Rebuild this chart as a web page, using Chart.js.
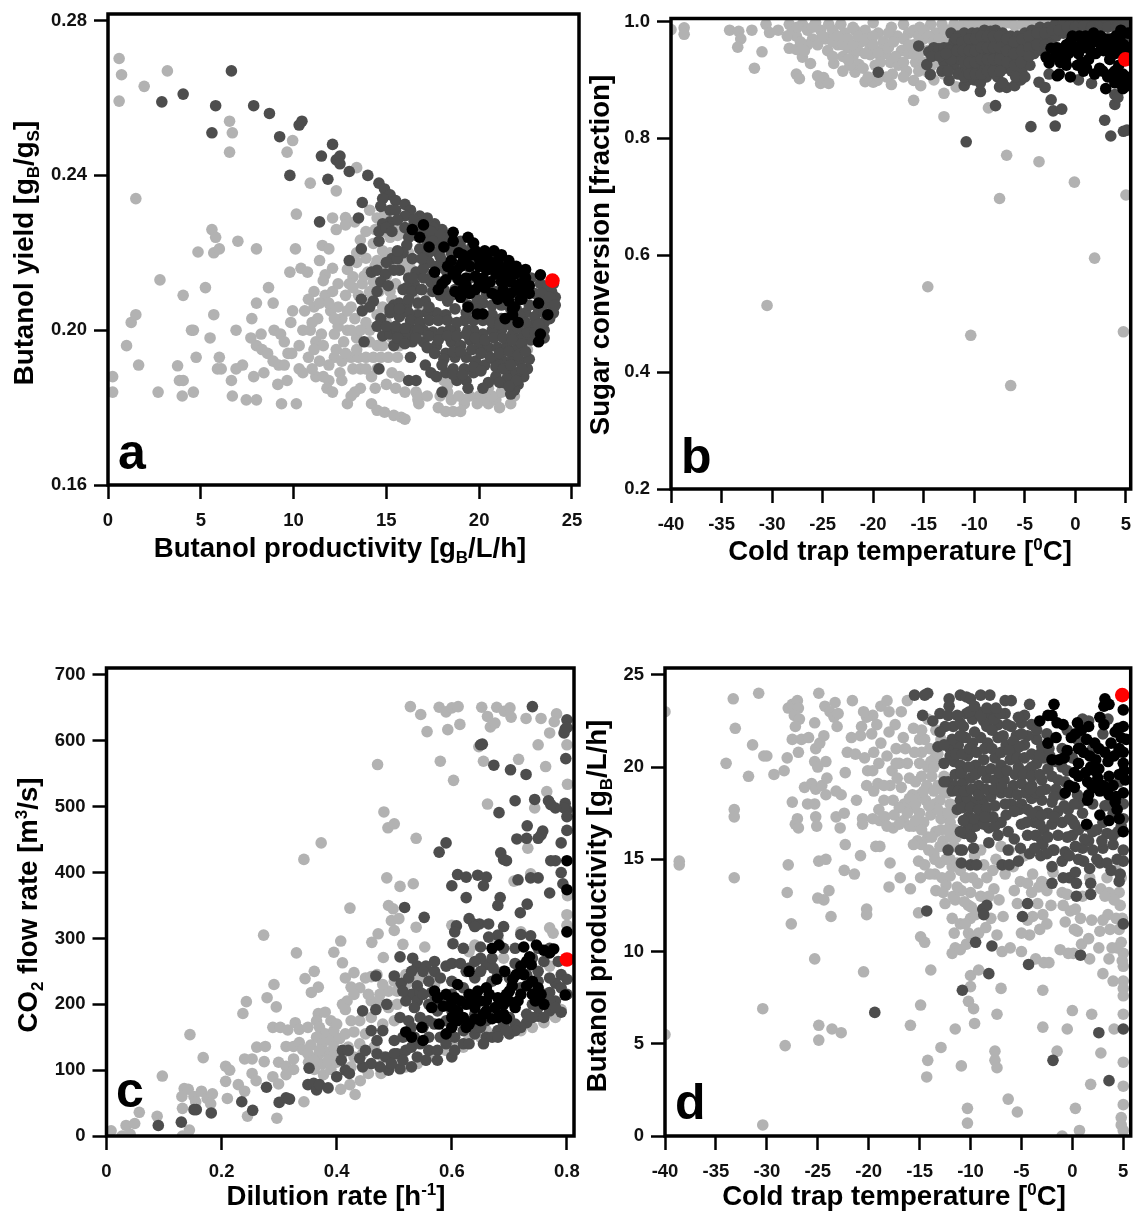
<!DOCTYPE html>
<html>
<head>
<meta charset="utf-8">
<title>Butanol process scatter plots</title>
<script src="https://cdn.jsdelivr.net/npm/chart.js@4"></script>
<style>
    html, body { margin: 0; padding: 0; background: #fff; }
    body { position: relative; width: 1138px; height: 1212px; overflow: hidden; }
    canvas { position: absolute; }
</style>
</head>
<body>
<canvas id="panelA" width="590" height="600" style="left:0;top:0"></canvas>
<canvas id="panelB" width="558" height="600" style="left:580px;top:0"></canvas>
<canvas id="panelC" width="590" height="562" style="left:0;top:650px"></canvas>
<canvas id="panelD" width="558" height="562" style="left:580px;top:650px"></canvas>
<script>
// Panel a: productivity vs yield
const aXTicks = [0, 5, 10, 15, 20, 25];
const aXLabels = ['0', '5', '10', '15', '20', '25'];
const aYTicks = [0.16, 0.20, 0.24, 0.28];
const aYLabels = ['0.16', '0.20', '0.24', '0.28'];
const aLight = [[.6,.2702],[.73,.266],[.6,.2592],[1.95,.263],[3.2,.267],[1.5,.234],[2.8,.213],[.25,.188],[.25,.184],[1,.196],[1.25,.202],[1.5,.204],[1.65,.191],[2.7,.184],[3.75,.1908],[3.85,.187],[4.05,.187],[4,.183],[4.6,.184],[4.05,.209],[4.5,.2],[4.6,.2],[4.75,.193],[4.85,.2202],[5.25,.211],[5.5,.198],[5.6,.226],[5.8,.224],[5.7,.22],[6,.221],[5.7,.204],[6,.193],[5.9,.19],[6.1,.19],[6.55,.254],[6.7,.251],[6.55,.246],[7,.223],[6.9,.2],[6.9,.19],[7.25,.191],[6.65,.187],[6.7,.183],[7.45,.182],[8,.182],[8,.221],[8,.207],[7.75,.203],[7.7,.198],[8.25,.199],[7.85,.188],[8.4,.189],[8.65,.211],[8.9,.207],[8.95,.2],[8,.196],[8.3,.195],[8.6,.194],[8.9,.192],[9.2,.191],[9.5,.191],[9.15,.186],[9.65,.187],[9.35,.181],[10.15,.181],[9.95,.249],[9.65,.246],[10.9,.238],[10.15,.23],[10.1,.221],[9.8,.215],[10.4,.216],[10.75,.215],[11.1,.21],[9.95,.205],[9.85,.202],[11.1,.206],[11.55,.2219],[11.9,.221],[11.4,.218],[12.1,.216],[11.7,.2143],[11.6,.2128],[12.1,.229],[12.8,.2291],[12.3,.226],[12.8,.2272],[13.3,.228],[14.1,.231],[14.5,.229],[12.3,.236],[13.4,.242],[13.6,.2233],[14.3,.2224],[14.8,.2205],[15.2,.224],[13.9,.2186],[13.4,.2175],[12.9,.2157],[13.2,.2138],[13.7,.212],[14.4,.2167],[15.6,.2172],[16.2,.2148],[15.2,.21],[17.25,.21],[9.3,.199],[9.5,.197],[9.7,.194],[9.9,.194],[10.5,.2],[10.9,.2],[10.3,.196],[11,.202],[11.3,.203],[11.5,.199],[11.2,.197],[11.6,.196],[10.8,.193],[11.1,.195],[10.3,.19],[10.5,.189],[11.2,.188],[11.6,.188],[11.9,.187],[11.8,.185],[12.2,.199],[12.4,.201],[12.6,.203],[12,.205],[12.4,.206],[11.7,.209],[12.1,.21],[12.4,.212],[12.8,.209],[13.1,.206],[13.3,.203],[12.9,.2],[13.4,.198],[12.7,.197],[12.2,.193],[12.6,.192],[11.9,.191],[13.1,.193],[13.5,.193],[13.9,.193],[14.3,.193],[14.7,.193],[15.1,.193],[15.6,.193],[13.2,.19],[13.6,.19],[12.5,.189],[14.1,.2],[14.5,.204],[14.2,.208],[14.8,.206],[15,.202],[15.3,.198],[15.7,.196],[14.5,.196],[14.2,.188],[14.4,.185],[13.6,.185],[13.3,.184],[13.1,.183],[12.9,.181],[15.3,.189],[15.7,.188],[16,.184],[16.6,.184],[16.7,.183],[14.2,.181],[14.5,.1793],[14.9,.1788],[15.4,.178],[15.8,.1775],[16,.177],[16.7,.182],[16.75,.181],[17.9,.183],[18.3,.184],[17.8,.18],[18.2,.179],[18.6,.179],[19,.179],[19.2,.181],[18.5,.182],[20,.183],[20.2,.182],[20.5,.181],[19.9,.181],[20.9,.182],[21.1,.18],[21.2,.184],[21.7,.181],[21.9,.183],[20.5,.185],[21.7,.189],[22,.192],[22.6,.195],[18.1,.187],[18.3,.186],[14.9,.218],[15.5,.212],[16.5,.208],[16.8,.205],[16.2,.22],[15.6,.205],[14.6,.21],[14,.215],[10.6,.205],[10.8,.208],[11.4,.207],[11.9,.207],[12.2,.203],[12.9,.205],[13.5,.209],[13.2,.211],[14.1,.21],[14.5,.212],[15,.214],[13.9,.202],[13.6,.2],[14.1,.197],[14.8,.2],[12.3,.195],[11.4,.192],[11,.19],[12.6,.187],[12.1,.184],[13.9,.19],[14.5,.19],[15,.186],[15.5,.185],[17.2,.183],[19.5,.183],[20.7,.183],[21.5,.186],[16.3,.216],[15.8,.225],[14.9,.23],[15.5,.227],[16.5,.225],[14.5,.218],[13.4,.22],[15.2,.22],[13,.212],[14.8,.196],[14.4,.226],[13.9,.2255],[14.9,.2255],[15.6,.2245],[16,.2175],[15,.2165],[14.3,.2125],[13.8,.214],[15.3,.208],[13.1,.2],[13.4,.195],[12.8,.194],[19.2,.182],[18.9,.183],[20.3,.184]];
const aDark = [[2.9,.259],[4.05,.261],[6.65,.267],[5.8,.258],[5.6,.251],[7.85,.258],[8.7,.256],[9.25,.25],[10.3,.253],[10.45,.254],[9.8,.24],[12.1,.248],[11.5,.245],[12.3,.244],[12.5,.245],[12.5,.243],[11.85,.239],[13,.241],[14,.24],[13.7,.233],[11.4,.228],[13.5,.229],[13.65,.221],[13,.218],[14.2,.215],[13.65,.208],[13.7,.205],[13.8,.197],[14.6,.19],[14.6,.238],[14.9,.2365],[15.2,.235],[15.5,.2335],[14.8,.234],[14.7,.232],[15.2,.231],[15.5,.231],[16,.2325],[16.3,.231],[16.8,.2295],[17.2,.229],[17.6,.2275],[18,.226],[18.4,.2245],[19,.223],[19.6,.2215],[16,.2295],[16.5,.228],[15.2,.228],[14.8,.2275],[14.6,.2255],[14.6,.223],[15,.2265],[16,.2265],[16.2,.224],[16.1,.222],[15.9,.22],[15.3,.2185],[15.6,.2185],[15.7,.2155],[16.4,.2185],[16.8,.221],[17.2,.223],[17.5,.225],[18,.223],[17.8,.22],[17.3,.2175],[16.6,.215],[16.2,.2135],[16.1,.211],[16.5,.212],[17,.2135],[17,.216],[18,.218],[18.5,.22],[14.5,.2155],[14.95,.2145],[14.7,.2125],[14.5,.21],[14.3,.2075],[14.1,.206],[15.4,.2065],[15.7,.207],[16.1,.2065],[16.7,.207],[17.1,.2075],[17.5,.21],[17.9,.209],[18.3,.2075],[18.7,.2105],[19.1,.2085],[19.4,.2065],[19.9,.208],[20.4,.2095],[20.9,.21],[21.4,.2075],[22,.2055],[22.5,.2045],[23,.2035],[23.6,.207],[23.9,.21],[24.1,.2085],[24,.206],[23.8,.203],[23.5,.2],[23.2,.198],[22.8,.1975],[22.3,.198],[21.8,.199],[21.2,.2],[20.7,.2],[20.2,.199],[19.7,.2],[19.2,.2025],[18.7,.2],[18.2,.204],[17.7,.2045],[17.2,.2045],[16.7,.204],[16.2,.2045],[15.7,.2035],[15.2,.2045],[14.7,.203],[14.5,.201],[14.8,.1985],[15.2,.199],[15.6,.1995],[16.1,.199],[16.5,.2],[17,.2],[17.5,.1995],[18,.1995],[18.5,.197],[19,.196],[19.5,.1975],[20,.1965],[20.5,.1955],[21,.1955],[21.5,.196],[22,.195],[15.4,.196],[15.9,.197],[16.4,.197],[17,.197],[17.7,.196],[18.2,.194],[18.7,.193],[19.3,.193],[19.8,.192],[20.3,.191],[20.8,.1925],[21.3,.192],[21.8,.1925],[22.2,.192],[22.7,.1925],[22.6,.19],[22.4,.188],[22.1,.186],[21.9,.1845],[21.7,.1835],[21.3,.1865],[20.9,.188],[20.5,.1865],[20.2,.185],[19.7,.189],[19.3,.187],[18.8,.187],[18.2,.189],[18.6,.19],[19.2,.19],[17.1,.191],[17.4,.189],[17.7,.188],[16.3,.193],[16.2,.187],[16.6,.187],[18,.184],[19.4,.185],[21.1,.191],[21.6,.189],[22,.189],[18.4,.2],[19.4,.2],[20.7,.204],[21.2,.203],[22.9,.201],[23.5,.202],[17,.2255],[17.5,.2245],[18,.2235],[18.6,.2215],[19.2,.22],[19.8,.2185],[20.3,.2165],[20.8,.2185],[21.3,.2175],[21.8,.216],[22.3,.2145],[22.8,.2135],[23.3,.212],[23.7,.2115],[24,.212],[17.2,.2195],[17.7,.2165],[18.2,.2155],[18.8,.2135],[19.5,.2135],[20,.2115],[20.6,.2105],[21.3,.2125],[21.9,.2115],[22.5,.2105],[23,.2095],[23.4,.2095],[23.8,.2085],[15.9,.2105],[16.4,.21],[16.9,.2105],[17.4,.2125],[18.1,.2105],[18.5,.209],[19.3,.2095],[19.8,.2065],[20.2,.207],[20.7,.2065],[21.2,.2065],[21.7,.2055],[22.2,.2035],[22.7,.2065],[23.2,.2055],[23.5,.2045],[24,.2045],[15.2,.2055],[15.7,.2055],[16.3,.2025],[16.8,.202],[17.3,.2025],[17.8,.2025],[18.3,.2025],[18.8,.202],[19.3,.2045],[19.7,.2025],[20.2,.2025],[20.7,.202],[21.1,.2015],[21.6,.2015],[22.1,.2005],[22.6,.1995],[23,.1995],[23.5,.198],[15,.201],[15.5,.201],[16,.2005],[16.7,.2],[17.3,.1985],[17.8,.1975],[18.3,.1985],[18.8,.1985],[19.3,.199],[19.8,.198],[20.3,.1975],[20.8,.198],[21.3,.198],[21.8,.1975],[22.3,.1965],[15.6,.198],[16,.1965],[16.6,.198],[17.2,.1955],[17.6,.194],[18.1,.1925],[18.6,.1945],[19,.1945],[19.6,.195],[20.1,.194],[20.6,.193],[21.1,.194],[21.6,.1945],[22.1,.1935],[22.5,.1945],[18,.191],[18.6,.1885],[19.1,.1885],[19.7,.1905],[20.1,.1895],[20.9,.1905],[21.3,.19],[21.7,.191],[22.3,.19],[21.5,.1875],[21.1,.1865],[22,.187],[21.6,.1855],[16.5,.2285],[17,.2275],[17.5,.2265],[16.8,.2265],[17.4,.2255],[17.9,.2245],[17.5,.223],[17.9,.221],[17.4,.2205],[16.9,.2185],[17.9,.219],[18.3,.2165],[18.6,.2165],[19,.2215],[18.4,.2215],[15.6,.2285],[15.3,.2255],[16.6,.2245],[15.6,.2205],[15,.2175],[19.4,.2165],[17.5,.2145],[16.4,.2135],[15.4,.2155],[17.8,.2125],[16.9,.2105],[15.1,.2115],[16.2,.208],[17.3,.206],[18.7,.2055],[19.9,.2055],[22.5,.202],[23.2,.2015],[24.1,.2065]];
const aBlack = [[16.4,.226],[17,.2272],[16.8,.224],[17.3,.2215],[18.1,.2215],[18.6,.2253],[18.6,.223],[19.4,.224],[19.7,.2225],[18.9,.22],[18.5,.218],[19.3,.2185],[19.8,.2205],[20.3,.2205],[20.8,.2205],[21.2,.2195],[21.6,.218],[22,.2165],[22.5,.2157],[23.3,.2143],[17.6,.215],[18,.212],[18.2,.213],[17.8,.2105],[18.8,.2155],[18.9,.213],[18.7,.21],[19,.2085],[19.3,.2115],[19.4,.206],[19.8,.214],[20,.2165],[20.3,.2185],[20.7,.2165],[20.6,.2125],[20.3,.211],[20.9,.2145],[21.1,.2165],[21.3,.215],[21.5,.2135],[21.9,.2145],[22.2,.212],[22.5,.2135],[22.7,.2115],[22.7,.2095],[22.3,.208],[21.9,.206],[21.7,.2095],[21.3,.2105],[21,.208],[19.9,.2042],[20.2,.2042],[21.4,.203],[21.8,.2055],[22.1,.202],[23.2,.207],[23.7,.204],[23.3,.199],[23.2,.197],[22.2,.208],[19.1,.2175],[20.4,.2155],[22,.2105],[19,.2165],[19.5,.2165],[19.6,.2195],[20,.2185],[20.5,.2175],[21,.218],[21.5,.216],[22.2,.215],[19.8,.2105],[20,.2125],[19.5,.2095],[20.7,.2095],[21.4,.2085],[21.8,.204],[19.1,.2105],[20.5,.218],[18.3,.2165],[18.6,.2145],[19.3,.2135],[20.2,.2135],[21.2,.2125],[20.4,.2195],[19.1,.2195],[21.7,.2125],[20.9,.2165],[22.4,.2105],[21.6,.2075],[20.9,.209]];
const aRed = [[23.95,.2128]];

// Panel b: cold trap temperature vs sugar conversion
const bXTicks = [-40, -35, -30, -25, -20, -15, -10, -5, 0, 5];
const bXLabels = ['-40', '-35', '-30', '-25', '-20', '-15', '-10', '-5', '0', '5'];
const bYTicks = [0.2, 0.4, 0.6, 0.8, 1.0];
const bYLabels = ['0.2', '0.4', '0.6', '0.8', '1.0'];
const bLight = [[-40,.986],[-38.7,.989],[-38.7,.978],[-34.2,.985],[-33.3,.983],[-33.1,.97],[-33.4,.956],[-32,.985],[-31,.948],[-31.75,.92],[-30.6,.995],[-30.25,.981],[-29.4,.985],[-27.6,.91],[-27.3,.902],[-27,.939],[-28.3,.954],[-27.6,.952],[-26.2,.928],[-25.5,.907],[-25.2,.894],[-24.9,.904],[-24.4,.894],[-23.9,.928],[-20.8,.897],[-20,.896],[-19.6,.899],[-18.2,.892],[-18.1,.91],[-21.8,.913],[-21.4,.926],[-20.3,.943],[-16,.865],[-16,.899],[-15.3,.89],[-14.6,.913],[-13,.877],[-13,.837],[-8.6,.852],[-6.8,.771],[-3.6,.76],[-.1,.725],[-7.5,.697],[5,.703],[1.9,.595],[-14.6,.546],[-30.5,.514],[-10.35,.463],[4.75,.469],[-6.4,.377],[-28.3,.995],[-28,.985],[-27.6,.975],[-27,.995],[-26.5,.985],[-26,.97],[-25.7,.998],[-25.2,.985],[-24.7,.97],[-24.4,.995],[-24,.98],[-23.5,.96],[-23.2,.995],[-22.8,.98],[-22.5,.955],[-22,.94],[-21.8,.985],[-21.2,.965],[-20.8,.985],[-20.3,.955],[-20,.998],[-19.5,.98],[-19,.965],[-18.8,.945],[-18.3,.93],[-18.2,.99],[-17.6,.975],[-17.2,.95],[-17,.995],[-16.5,.98],[-16,.96],[-15.8,.93],[-15.4,.99],[-15,.97],[-14.6,.95],[-14.3,.995],[-13.8,.98],[-13.5,.93],[-13,.91],[-13.2,.995],[-12.5,.985],[-12,.995],[-11.5,.99],[-11,.998],[-10.5,.995],[-10,.998],[-9.5,.995],[-9,.998],[-8.4,.995],[-7.8,.998],[-7.2,.995],[-6.6,.998],[-6,.993],[-26.5,.96],[-25.5,.96],[-24.5,.95],[-23,.94],[-22.3,.925],[-21,.92],[-20.5,.905],[-19.8,.925],[-17.5,.925],[-16.7,.915],[-14.2,.925],[-12.5,.91],[-11.8,.888],[-19.2,.95],[-21.5,.95],[-16.5,.945],[-15.5,.915],[-14,.9],[-12.8,.93],[-24,.985],[-27.2,.965],[-28.5,.975],[-22,.99],[-5.3,.995],[-4.7,.998],[-27.5,.99],[-26,.99],[-25,.975],[-24,.965],[-23.5,.975],[-23,.96],[-22.5,.97],[-22,.96],[-21.5,.975],[-20.8,.97],[-20.8,.945],[-20,.975],[-20,.96],[-19.5,.945],[-19.3,.93],[-18.5,.98],[-18.5,.955],[-18,.965],[-17.8,.94],[-17,.97],[-17,.93],[-16.5,.96],[-16,.985],[-16,.945],[-15.5,.975],[-15.5,.945],[-15,.985],[-15,.93],[-14.5,.975],[-14,.965],[-13.5,.97],[-13,.985],[-13,.965],[-12.5,.97],[-18.7,.905],[-19.5,.905],[-17,.905],[-26.8,.95],[-24,.94],[-23,.915],[-22.5,.935],[-4,.998],[-3,.998]];
const bDark = [[-15.5,.958],[-19.5,.913],[-14.7,.926],[-14.35,.909],[-10.8,.794],[-7.9,.856],[-4.4,.82],[-2,.821],[-2.4,.866],[-2.2,.847],[-1.35,.85],[2.9,.831],[3.5,.804],[4.75,.812],[5.1,.814],[3.9,.858],[3.9,.875],[-3.6,.896],[-3,.887],[.3,.9],[1.6,.894],[-9.4,.88],[-12.5,.899],[-11,.89],[-7.5,.888],[-6.8,.887],[-6,.89],[-5.4,.9],[-2.6,.91],[-14.5,.948],[-14,.955],[-13.5,.953],[-13,.955],[-13,.93],[-12.5,.955],[-12.3,.98],[-12,.965],[-12,.945],[-12,.925],[-11.6,.975],[-11.5,.955],[-11.4,.935],[-11.2,.915],[-11,.98],[-10.8,.96],[-10.8,.94],[-10.8,.92],[-10.6,.9],[-10.2,.98],[-10.2,.96],[-10.2,.94],[-10.2,.92],[-10,.9],[-9.7,.98],[-9.6,.96],[-9.6,.94],[-9.6,.92],[-9.4,.895],[-9,.985],[-9,.965],[-9,.945],[-9,.925],[-8.8,.905],[-8.4,.983],[-8.4,.963],[-8.4,.943],[-8.4,.923],[-7.9,.985],[-7.8,.965],[-7.8,.945],[-7.8,.925],[-7.7,.905],[-7.2,.98],[-7.1,.96],[-7.2,.94],[-7,.92],[-6.4,.975],[-6.5,.955],[-6.4,.935],[-6.3,.915],[-5.7,.975],[-5.7,.955],[-5.8,.935],[-5.3,.915],[-5,.98],[-4.9,.96],[-5,.94],[-4.5,.925],[-4.3,.985],[-4.2,.965],[-4.1,.945],[-3.5,.99],[-3.4,.97],[-3.3,.95],[-2.7,.99],[-2.6,.97],[-2,.995],[-1.9,.975],[-1.2,.995],[-1.2,.98],[-.4,.998],[-.4,.98],[.4,.998],[.4,.985],[1.2,.998],[2,.998],[2.8,.998],[3.6,.998],[4.4,.998],[5,.995],[-1.8,.95],[4.2,.87],[4.8,.97],[-12.4,.95],[-12.3,.935],[-11.8,.97],[-11.7,.95],[-11.6,.91],[-11.2,.965],[-11.1,.95],[-11,.93],[-11,.905],[-10.5,.97],[-10.5,.95],[-10.5,.93],[-10.5,.91],[-9.9,.97],[-9.9,.95],[-9.9,.93],[-9.9,.91],[-9.3,.975],[-9.3,.955],[-9.3,.935],[-9.3,.91],[-8.7,.975],[-8.7,.955],[-8.7,.935],[-8.7,.915],[-8.1,.975],[-8.1,.955],[-8.1,.935],[-8.1,.915],[-7.5,.975],[-7.5,.955],[-7.5,.935],[-7.4,.915],[-6.8,.97],[-6.8,.95],[-6.8,.93],[-6.1,.965],[-6.1,.945],[-6,.925],[-5.3,.97],[-5.3,.95],[-5.4,.93],[-4.6,.975],[-4.6,.955],[-4.6,.94],[-3.8,.98],[-3.8,.96],[-3,.98],[-3,.96],[-2.3,.985],[-2.3,.96],[-1.6,.985],[-.8,.99],[0,.99],[.8,.992],[1.6,.99],[2.4,.99],[3.2,.99],[4,.99],[4.8,.985],[-14.2,.94],[-13.4,.94],[-12.8,.945],[-13.2,.915],[-12.6,.915],[-5.9,.905],[-5,.905],[-7.2,.895]];
const bBlack = [[-2.9,.939],[-2.4,.954],[-2.6,.929],[-1.8,.907],[-1.6,.91],[-1.8,.955],[-1.5,.93],[-1.2,.945],[-.9,.925],[-.7,.945],[-.5,.905],[-.5,.965],[-.3,.975],[.2,.925],[.3,.945],[.4,.975],[.8,.915],[.8,.955],[1,.975],[1.3,.935],[1.4,.96],[1.8,.98],[1.9,.91],[2,.945],[2.2,.965],[2.5,.975],[2.7,.915],[2.8,.95],[3.2,.905],[3.2,.97],[3.4,.935],[3.5,.955],[3.9,.895],[3.9,.915],[3.9,.945],[4,.975],[4.3,.895],[4.3,.955],[4.5,.985],[4.7,.91],[4.7,.885],[4.8,.96],[5.1,.89],[5.1,.905],[5.2,.955],[5.2,.98],[3,.885],[2.9,.97],[4.3,.925],[-.9,.96],[.9,.965],[1.7,.97],[2.6,.955],[3,.96],[3.5,.97],[3.6,.945],[4.1,.96],[4.4,.97],[4.6,.945],[4.9,.905],[4.2,.905],[3.6,.91],[1.5,.95],[.5,.96],[-.1,.955],[2.4,.92],[1.1,.92],[.6,.93],[-2,.94],[-1,.935]];
const bRed = [[4.95,.935]];

// Panel c: dilution rate vs CO2 flow rate
const cXTicks = [0, 0.2, 0.4, 0.6, 0.8];
const cXLabels = ['0', '0.2', '0.4', '0.6', '0.8'];
const cYTicks = [0, 100, 200, 300, 400, 500, 600, 700];
const cYLabels = ['0', '100', '200', '300', '400', '500', '600', '700'];
const cLight = [[.528,652],[.546,640],[.557,614],[.578,651],[.59,644],[.6,650],[.611,652],[.614,625],[.593,617],[.58,569],[.603,540],[.471,564],[.482,492],[.489,468],[.5,474],[.538,452],[.373,445],[.343,420],[.487,392],[.51,379],[.533,383],[.423,346],[.49,350],[.498,345],[.495,327],[.508,330],[.538,317],[.5,312],[.472,307],[.461,294],[.407,296],[.395,279],[.515,291],[.553,287],[.481,271],[.41,263],[.273,305],[.33,278],[.361,250],[.345,239],[.368,226],[.356,218],[.291,230],[.279,210],[.295,196],[.243,204],[.237,186],[.652,651],[.662,637],[.667,621],[.675,627],[.678,651],[.691,645],[.701,650],[.703,636],[.729,634],[.755,634],[.782,641],[.778,629],[.77,612],[.75,594],[.8,594],[.763,561],[.716,572],[.647,591],[.655,569],[.662,504],[.744,498],[.765,523],[.801,534],[.732,437],[.737,398],[.708,387],[.801,365],[.8,336],[.77,316],[.776,308],[.8,320],[.145,154],[.168,119],[.097,91],[.207,106],[.214,100],[.207,83],[.21,57],[.229,78],[.24,68],[.253,95],[.26,84],[.261,135],[.276,136],[.24,117],[.253,117],[.274,113],[.289,165],[.302,165],[.315,161],[.328,172],[.335,162],[.35,165],[.312,136],[.325,136],[.335,142],[.341,131],[.299,112],[.312,106],[.325,117],[.289,90],[.299,79],[.312,93],[.325,101],[.351,112],[.368,123],[.374,109],[.361,101],[.377,93],[.39,101],[.407,71],[.423,78],[.432,63],[.441,84],[.455,95],[.477,95],[.343,52],[.296,27],[.245,30],[.135,72],[.142,71],[.131,60],[.132,42],[.152,60],[.165,68],[.155,52],[.175,57],[.184,64],[.181,49],[.057,36],[.088,30],[.008,8],[.034,16],[.049,19],[.041,3],[.027,0],[.132,0],[.144,9],[.368,186],[.38,188],[.365,175],[.37,165],[.38,155],[.365,150],[.355,138],[.375,140],[.39,145],[.395,160],[.405,148],[.415,155],[.43,158],[.38,128],[.395,125],[.42,135],[.44,140],[.41,200],[.418,205],[.415,192],[.425,175],[.415,240],[.43,248],[.44,225],[.425,226],[.43,215],[.45,240],[.46,242],[.47,245],[.44,175],[.46,205],[.475,203],[.49,220],[.48,230],[.5,235],[.52,245],[.535,238],[.55,240],[.565,245],[.49,195],[.505,200],[.46,180],[.48,170],[.5,175],[.54,110],[.57,120],[.6,140],[.63,148],[.66,160],[.7,168],[.74,165],[.78,180],[.79,192],[.72,310],[.68,300],[.64,290],[.6,320],[.63,280],[.69,270],[.77,258],[.395,135],[.41,125],[.43,120],[.445,125],[.385,115],[.4,112],[.425,105],[.37,130],[.35,125],[.36,115],[.39,175],[.4,170],[.45,155],[.465,135],[.48,120],[.5,110],[.52,105],[.555,115],[.59,130],[.62,135],[.65,150],[.68,155],[.72,160],[.76,172],[.455,215],[.475,215],[.505,220],[.52,230],[.545,250],[.57,230]];
const cDark = [[.74,652],[.65,594],[.653,595],[.8,632],[.797,618],[.795,612],[.8,620],[.798,573],[.673,563],[.702,556],[.729,549],[.8,495],[.797,505],[.795,498],[.78,498],[.8,485],[.8,464],[.682,491],[.71,509],[.744,511],[.768,509],[.772,503],[.731,471],[.758,463],[.755,457],[.75,452],[.73,452],[.713,451],[.79,445],[.578,431],[.59,445],[.685,430],[.69,420],[.695,418],[.78,418],[.772,418],[.79,400],[.61,397],[.625,393],[.645,396],[.66,393],[.655,380],[.6,380],[.715,389],[.737,392],[.75,392],[.793,383],[.77,369],[.625,362],[.684,362],[.68,350],[.731,352],[.719,339],[.518,347],[.552,332],[.63,330],[.638,322],[.648,322],[.664,322],[.64,318],[.608,319],[.605,310],[.69,318],[.68,305],[.72,306],[.737,304],[.664,302],[.602,292],[.62,285],[.65,287],[.51,272],[.532,270],[.54,258],[.555,258],[.57,250],[.59,258],[.6,262],[.615,262],[.63,255],[.66,260],[.672,255],[.69,250],[.74,270],[.76,265],[.79,245],[.8,238],[.78,232],[.468,243],[.5,243],[.512,232],[.525,240],[.54,228],[.56,235],[.58,240],[.53,215],[.545,218],[.565,218],[.52,205],[.54,205],[.56,200],[.58,210],[.6,235],[.62,225],[.64,240],[.67,235],[.7,240],[.75,235],[.77,218],[.78,205],[.79,188],[.77,190],[.75,182],[.73,172],[.72,165],[.7,180],[.68,160],[.66,150],[.64,155],[.62,140],[.6,120],[.58,150],[.56,130],[.54,120],[.52,130],[.51,102],[.505,125],[.49,100],[.475,105],[.46,110],[.445,105],[.44,118],[.45,130],[.47,125],[.5,145],[.52,155],[.535,150],[.55,165],[.57,170],[.59,175],[.6,190],[.51,180],[.525,175],[.48,160],[.47,145],[.46,160],[.445,190],[.468,192],[.487,200],[.41,130],[.42,130],[.408,115],[.415,100],[.422,95],[.4,90],[.352,103],[.35,78],[.36,80],[.365,70],[.37,78],[.385,73],[.278,74],[.3,51],[.312,58],[.318,56],[.235,52],[.254,39],[.152,40],[.156,40],[.182,35],[.09,16],[.13,21],[.64,165],[.66,175],[.7,155],[.74,200],[.76,215],[.72,225],[.68,195],[.485,120],[.5,125],[.515,115],[.53,135],[.545,140],[.56,150],[.575,130],[.59,140],[.605,150],[.62,160],[.635,175],[.65,165],[.515,150],[.53,165],[.545,180],[.56,175],[.575,190],[.59,200],[.6,215],[.535,195],[.55,215],[.57,205],[.515,220],[.625,250],[.65,250],[.68,245],[.71,262],[.73,245],[.75,250],[.77,240],[.79,225],[.8,215],[.785,265],[.77,285],[.75,285],[.71,285],[.69,285],[.67,270],[.65,270],[.64,265],[.57,265],[.55,250],[.53,250],[.62,175],[.64,185],[.69,170],[.71,170],[.73,185],[.75,195],[.77,205],[.71,160],[.67,150],[.74,180],[.76,180],[.78,195],[.495,110],[.53,105],[.555,115],[.575,115],[.605,130],[.63,140],[.655,140],[.68,150],[.695,160]];
const cBlack = [[.8,418],[.8,374],[.8,310],[.797,214],[.76,282],[.77,278],[.777,284],[.747,290],[.725,287],[.735,272],[.73,265],[.738,260],[.72,258],[.712,245],[.692,250],[.706,238],[.678,238],[.63,250],[.61,230],[.57,220],[.575,210],[.59,215],[.605,210],[.585,197],[.565,195],[.52,158],[.55,145],[.53,150],[.548,165],[.578,170],[.59,155],[.6,165],[.6,180],[.61,190],[.62,180],[.63,170],[.64,195],[.645,220],[.66,225],[.66,190],[.67,178],[.68,210],[.69,185],[.7,220],[.71,195],[.72,215],[.73,228],[.74,215],[.75,225],[.76,200],[.695,178],[.65,175],[.625,200],[.67,285],[.682,290],[.6,195],[.615,205],[.63,215],[.64,205],[.65,205],[.66,205],[.665,215],[.675,195],[.69,200],[.695,215],[.7,205],[.705,228],[.715,205],[.725,245],[.74,235],[.745,205],[.755,215],[.61,175],[.64,178],[.655,185],[.68,180],[.625,165],[.6,205]];
const cRed = [[.8,268]];

// Panel d: cold trap temperature vs butanol productivity
const dXTicks = [-40, -35, -30, -25, -20, -15, -10, -5, 0, 5];
const dXLabels = ['-40', '-35', '-30', '-25', '-20', '-15', '-10', '-5', '0', '5'];
const dYTicks = [0, 5, 10, 15, 20, 25];
const dYLabels = ['0', '5', '10', '15', '20', '25'];
const dLight = [[-40,23],[-40,5.5],[-38.6,14.9],[-38.6,14.7],[-34,20.2],[-33.3,23.7],[-33.1,22.1],[-33.2,17.7],[-33.2,17.3],[-33.2,14],[-31.8,19.5],[-31.4,21.2],[-30.8,24],[-30.3,20.6],[-30,20.6],[-29.3,19.6],[-30.4,6.9],[-30.4,.6],[-28.3,19.8],[-28,20.5],[-27.9,14.7],[-28,13.2],[-28.2,4.9],[-27.6,11.5],[-27.5,18.1],[-27.5,21.5],[-27.9,23.2],[-27.5,23.4],[-27,23.6],[-26.9,23.2],[-27.3,22.8],[-26.8,22.6],[-27.2,22.2],[-26.6,21.5],[-25.9,21.6],[-26.9,20.8],[-26.3,18.9],[-26,18],[-27,17.2],[-27.2,16.9],[-26.9,16.7],[-25.6,19.1],[-25.2,18.8],[-25.3,18],[-25.2,17.3],[-25.1,16.8],[-25.3,20.3],[-25,20],[-25.2,21],[-24.8,21.3],[-24.4,21.7],[-25.3,22.4],[-24.9,24],[-24.3,23.3],[-23.8,23],[-23.3,23.5],[-23.4,22.7],[-23.1,22.2],[-23,22.9],[-24.2,20.3],[-24.6,19],[-24.1,19.4],[-24.2,18.5],[-24.9,14.9],[-24.2,15],[-25,12.9],[-24.4,12.8],[-23.9,13.3],[-23.7,11.9],[-25.3,9.6],[-24.9,6],[-23.6,5.8],[-24.9,5.2],[-22.7,5.6],[-23.2,18.7],[-22.7,18.5],[-23.2,17.3],[-22.8,16.7],[-22.4,17.5],[-22.3,19.7],[-22.3,15.8],[-22.4,14.4],[-21.4,14.2],[-20.8,15.2],[-20.2,12.3],[-20.2,12],[-20.5,8.9],[-21.6,23.6],[-21.7,21.6],[-20.8,21.7],[-22.1,20.8],[-21.3,20.7],[-20.4,20.5],[-20.1,19.8],[-19.6,19.8],[-21.2,18.2],[-20.2,19],[-19.5,18.7],[-20.6,17.2],[-20.6,16.9],[-19.1,19.1],[-19.6,22.8],[-20.2,22.7],[-19.2,22.3],[-18.8,23.3],[-18.2,23.6],[-18,23],[-19,17.7],[-18.9,17.1],[-18.4,17.3],[-19.3,15.7],[-18.9,15.7],[-18.2,16.8],[-17.6,16.7],[-17.9,14.8],[-18,13.5],[-16.9,14],[-17.4,22.3],[-18,21.9],[-17.3,21],[-16.6,21.6],[-18.2,20.6],[-17.7,19.8],[-17.9,19],[-17.6,18.2],[-16.8,18.9],[-16.2,20.2],[-16,19.4],[-16.5,18],[-16.6,17.1],[-16,16.8],[-16.8,23],[-16.2,23.6],[-15.6,22.1],[-15,21.5],[-15,20.2],[-14.8,19.5],[-15,18.5],[-15,17.5],[-14.6,17],[-15.2,16],[-14.8,15.8],[-15.1,14.9],[-14.5,14.7],[-14.1,15.5],[-15.9,13.4],[-15.1,12.1],[-14.9,10.8],[-14.5,10.5],[-13.9,9],[-14.9,7.1],[-15.9,6],[-14.2,4.1],[-14.3,3.2],[-12.9,4.8],[-14,21],[-13.8,19.5],[-13.5,18],[-13.4,16.5],[-13.6,15.3],[-12.9,21.5],[-12.6,19.5],[-12.5,17.5],[-12.7,16],[-13.5,14.2],[-13.4,13.3],[-12.8,14],[-12.4,13.6],[-11.8,14.6],[-12.5,12.6],[-11.7,13],[-11.5,12.8],[-11.8,11.8],[-11.6,11],[-11.5,10.2],[-11.8,9.9],[-11,10.1],[-10.4,10.4],[-11.5,5.8],[-10.9,3.8],[-12,15],[-11,14.4],[-10.5,14],[-9.8,14],[-10,13.2],[-10.2,12.5],[-10,11.8],[-10.2,11],[-9.5,12],[-9,13],[-8.7,12.3],[-8.5,11.3],[-7.7,13.4],[-7.2,12.8],[-7.4,10.9],[-6.8,11.9],[-6.6,14.2],[-6.9,10],[-6.1,10.2],[-10,8.7],[-9.2,9],[-10,8.1],[-7,8],[-10.2,7.3],[-9.7,6.9],[-9.6,6.1],[-7.4,6.6],[-7.6,4.6],[-7.6,4.1],[-7.4,3.7],[-6.3,2],[-5.4,1.3],[-10.3,1.5],[-10.3,.7],[-5.8,14.6],[-5.7,13.3],[-5.1,13.8],[-4.4,13.7],[-3.9,14.2],[-3.4,12.6],[-3.9,11.9],[-4.4,11.7],[-4.2,10.9],[-5,11],[-5,10],[-2.9,12],[-3.6,9.6],[-2.8,9.4],[-2.3,9.4],[-2.9,7.9],[-2.9,5.9],[-1.5,4.6],[-2.1,12.5],[-1.9,14.3],[-1,13.2],[-.5,13.1],[-.2,12.2],[.8,11.8],[-.7,11.6],[.1,9.9],[-.4,9.9],[.9,10.4],[1.7,9.6],[1.6,10.7],[2.7,11.1],[2.6,10.2],[1.9,11.7],[3.5,12],[3.6,9.6],[3,8.8],[3.7,11.2],[4,8.4],[4.8,14],[4.6,13.2],[4.7,12.5],[4.1,12.8],[4.8,10.5],[5,9.9],[5,9.2],[5,8.4],[5,8],[5,7.6],[5,6.6],[4.1,5.8],[5,4],[5,2.7],[5,1.7],[4.8,1],[4.8,.6],[5,.3],[.3,1.5],[.7,.3],[-.5,5.8],[0,6.8],[1.9,6.6],[2.8,4.5],[1.8,2.8],[-1,.0],[-9,15.5],[-7.5,15],[-6.2,15.5],[-4.7,15.2],[-3,13.8],[1.7,14],[2.8,13.4],[3.4,14],[-14.5,21.5],[-14.8,20.8],[-14.2,20],[-14.3,19],[-14.4,18.2],[-13.9,17.4],[-14.2,16.2],[-13.5,20.5],[-13.2,19],[-13,18.2],[-12.9,17.2],[-13,15.7],[-12.3,18.6],[-12,18],[-12,17],[-12,16.2],[-11.7,17.5],[-11.5,16.6],[-11.6,15.7],[-13.4,22],[-15.5,20.8],[-15.7,18.5],[-15.8,17.8],[-15.6,15.8],[-15.6,16.8],[-16.4,21],[-17,20.2],[-17.2,19.4],[-17,17.8],[-18.5,19],[-19,20.2],[-19.5,20.8],[-19.7,21.8],[-18.8,21.3],[-20.7,22.2],[-20.5,23],[-13.5,15],[-13,14.8],[-12.4,15],[-11.3,14.8],[-12.7,13.2],[-10.9,13.3],[-8.4,14],[-8.7,14.7],[-7.8,14.4],[-7,15.7],[-9.6,15.2],[-9.9,10.8],[-9.2,11],[-9.9,12.4],[-3.3,13.5],[-2.5,13.3],[-.9,12.5],[.3,12.3],[1,13],[3.6,13.2],[4.3,14.4],[4.9,11.8],[4.6,11.2],[4.4,10.2],[4.9,9.5],[3.2,13],[-2.5,11.5],[-1.2,10.1],[-14.8,22],[-14.2,22.6],[-13.9,20.3],[-14.6,18.7],[-13.6,18.7],[-13.2,17.7],[-12.7,18.7],[-12.2,17.5],[-14.1,17.9],[-14.8,16.6],[-13.8,16.2],[-12.9,16.6],[-12.3,16.6],[-12.3,15.6],[-11.4,16.2],[-13.6,20],[-13.2,20.7],[-16,18.3],[-15.4,19.2],[-15.4,18],[-15.4,17.1],[-16.2,17.5],[-17,16.9],[-17.5,17.4],[-17.3,20.2],[-18.5,18.2],[-19.6,17.2],[-14.9,14],[-14,14.2],[-12,14.1],[-11.3,13.5],[-10.6,12.7],[-11,11.5],[-10.5,11.5],[-9.3,13.7],[-8.2,13],[-8,11.8],[-5.4,12.6],[-4,13.2],[-3.2,11.2],[.5,11.1],[.2,11.2],[3,11.7],[3.9,10.2],[4.3,11.8]];
const dDark = [[-19.4,6.7],[-14.3,12.2],[-10.8,7.9],[-8.2,8.8],[-9.5,10.5],[-7.9,10.3],[-8.8,12.3],[-8.4,12.5],[-8.7,12],[-4.9,11.9],[-4.4,12.6],[-4.3,9.3],[.8,9.8],[2.6,5.6],[5,5.8],[5,11.5],[-1.9,4.1],[3.6,3],[-15.5,23.9],[-14.5,23.9],[-14.2,24],[-14.7,22.8],[-13.7,22.5],[-13.2,21.1],[-12,21],[-12.1,23.7],[-12.1,23.3],[-11,23.9],[-10.4,23.8],[-10,23.7],[-9,23.9],[-8.1,23.9],[-6.6,23.6],[-6,23.6],[-4.2,23.4],[-4.7,22.8],[-13,22.9],[-12.2,22.8],[-11.7,22.2],[-11,22.4],[-10.4,22.9],[-9.8,22.6],[-9.3,23],[-8.7,22.5],[-8,22.9],[-7.3,22.3],[-6.6,22.9],[-6,22.2],[-5.5,21.7],[-11.2,21.2],[-10.5,21.6],[-9.8,21.3],[-9,21.6],[-8.3,21.3],[-7.3,21.6],[-6.5,21.2],[-5.6,20.9],[-4.7,21.2],[-4,20.7],[-11.6,20.3],[-11,20.1],[-10.3,20.6],[-9.5,20.1],[-8.7,20.4],[-7.6,20.5],[-7,20.1],[-6.1,20.4],[-5.3,20],[-4.4,19.8],[-3.5,20.2],[-2.8,20.5],[-12.2,19.2],[-11.5,19],[-10.7,19.2],[-10,19.4],[-9.2,19],[-8.4,19.4],[-7.6,19.3],[-6.7,19.3],[-5.8,19],[-5,19.1],[-4,19],[-3,19.3],[-2,19.5],[-1,20],[0,20.5],[-12.6,19.2],[-11,18.2],[-10.3,18.3],[-9.5,18.1],[-8.8,18.2],[-8,18.4],[-7,18.6],[-6,18],[-5,18],[-4,18.3],[-3,18.2],[-2,18.1],[-1,18.5],[-11.3,17.7],[-10.2,17.3],[-9.3,17.2],[-8.2,17.3],[-7,17],[-6.5,17.4],[-5.2,17.7],[-5,16.9],[-3.7,17],[-2.8,16.6],[-2,16.9],[-1,17],[0,17.1],[1,17.5],[2,18],[3,17],[4,17.5],[-10.6,16.4],[-10.1,16.5],[-9.5,16.8],[-8.2,16.7],[-7.6,16.8],[-4.4,16.3],[-3.6,16.3],[-3,16],[-1.8,15.5],[-.7,15.4],[0,16.3],[1,15.6],[2,15.5],[3,15.6],[4,15.8],[5,15.5],[-12.2,15.5],[-11,15.5],[-9.7,15.6],[-8.2,15.9],[-6.3,15.5],[-5.7,16.1],[-5.1,15.6],[-5.3,14.9],[-2.9,15.8],[-1.9,15.5],[-10.9,14.8],[-10,14.7],[-9.4,14.7],[-6.9,14.7],[-6.2,14.7],[-2,14.6],[-1,14.9],[1.1,14.9],[1.7,14.5],[2.7,14.8],[3.8,14.4],[4.7,14.2],[5,14.9],[-.3,14],[.3,14.3],[-2,13.7],[-.9,14],[.4,13.7],[.4,13],[1.8,13.7],[1.8,13.1],[4.6,13.8],[-10.8,15.5],[.5,18.5],[-2.5,21.8],[-.5,22],[1,22.6],[1.6,22.5],[3.5,22.6],[-3.5,21.5],[-1,21],[-12.5,22.2],[-11.8,21.5],[-12,20.6],[-11.3,22.8],[-10.7,22.2],[-10.1,23],[-9.6,21.9],[-9,22.8],[-8.4,22.2],[-7.7,22.6],[-7.1,22.9],[-6.4,22.3],[-5.8,21.4],[-5.2,21.1],[-11.4,20.7],[-10.8,20.7],[-10.1,21],[-9.4,20.8],[-8.6,21],[-7.9,21],[-7,20.8],[-6.2,20.9],[-5.4,20.5],[-4.7,20.5],[-4,20],[-3.2,20.7],[-11.5,19.6],[-10.9,19.7],[-10.2,20],[-9.5,19.6],[-8.8,19.8],[-8,19.9],[-7.2,19.7],[-6.4,19.8],[-5.6,19.6],[-4.8,19.6],[-4,19.5],[-3.2,19.6],[-2.4,19.9],[-1.6,20.3],[-11.8,18.7],[-11.2,18.7],[-10.6,18.7],[-9.9,18.8],[-9.2,18.5],[-8.5,18.8],[-7.7,18.8],[-6.9,18.9],[-6.2,18.6],[-5.4,18.5],[-4.6,18.6],[-3.6,18.6],[-2.6,18.8],[-1.6,18.8],[-.7,19.2],[-10.8,17.8],[-10,17.8],[-9.2,17.7],[-8.4,17.8],[-7.6,17.9],[-6.6,18],[-5.7,17.6],[-4.4,17.7],[-3.4,17.6],[-2.4,17.5],[-1.4,17.6],[-.4,17.7],[.6,18],[-10.3,16.9],[-9.7,17.2],[-8.7,16.9],[-7.8,17.3],[-4.5,17],[-3.2,16.9],[-2.4,16.2],[-1.4,16.3],[-.5,16.2],[.6,16.6],[1.5,16.8],[2.4,16.6],[3.4,16.4],[4.5,16.5],[5,17.2],[.6,15],[2.4,15],[3.4,14.8],[4.4,15],[1.6,16],[3.6,18],[5,18],[4.6,19.2],[2,21],[.5,21.5],[3,21.8],[4.5,20.8],[-13,21.9],[-12.6,21.2],[-12.6,20.2],[-4,22.3],[-5,22.4],[-4.4,21.7],[-3,21.1],[-2.2,20.6],[-1.4,19.3],[-.5,19.8],[-3.5,22],[-2.3,21],[-9.6,23.3],[-8.4,23.2],[-7.5,23.2],[-5.3,22.7],[-11,21.7],[-7.9,22],[-6.8,21.7],[-5,21.8],[-8.6,17.3],[-9.9,16.2],[-10.7,17.1],[-11,16.5],[-7.3,16.3],[-6.3,16.5],[-4.2,15.3],[-3.7,15.6],[-3.1,15.2],[-.3,15.2],[.3,15.7],[2.9,16],[4,16.3],[4.8,16.8],[2,16.5],[3.2,17.9],[.2,18],[-.3,17.2],[1.2,18.2],[.2,16.9],[1.2,16.1],[-2.5,15.3],[-4,17.5],[-3,17.4],[-1.8,17.3],[-.8,17.9],[-1.8,18.4],[-3.1,18.7],[-4.1,18.8]];
const dBlack = [[5,23.1],[3.2,23.7],[3.1,23.3],[3.6,23.4],[2.7,22.7],[3.1,22.3],[-3.2,22.5],[-2.4,22.8],[-2,22.8],[-1.5,22.4],[-.9,22.3],[-1.8,23.4],[.5,22.4],[.3,21.8],[1.6,22.2],[1.4,21.5],[-.1,21.6],[2.2,21.3],[-2.4,21.3],[-1.6,21.6],[4.5,22.1],[5,22.2],[4.8,21.6],[5.3,21.5],[3.8,21.3],[.8,21],[-.5,20.9],[-.8,20.5],[1.7,20.6],[2.3,20.4],[3.2,20.8],[4.1,20.6],[5,20.8],[-2,20.4],[-1.3,20.4],[.6,20.2],[1.3,19.7],[1.8,20],[2.6,19.9],[3.5,20.3],[5,20.2],[.6,19.5],[1.5,19.2],[2.5,19.4],[3.6,19.5],[4.6,19.6],[5.2,19.3],[-.3,19],[.2,18.9],[-.7,18.6],[1.6,18.5],[1.5,18.2],[2.7,18.7],[3.3,18.9],[4.3,18.4],[5,18.6],[4.4,17.7],[4.6,17.2],[2.7,17.4],[3.6,17.1],[1.4,16.9],[5,16.5],[1.9,19],[.9,22],[.6,21],[1.1,20.8],[2.6,21],[4.2,21.9],[4.6,21],[5.1,19.8],[3,19],[4,19],[3.6,18.5],[4.2,18.1],[2.2,18.9],[2.2,19.8],[.2,19.7]];
const dRed = [[4.9,23.9]];

const LIGHT = '#b2b2b2';
const DARK = '#4d4d4d';
const FONT = '"Liberation Sans", Arial, sans-serif';

// frame, axis titles with sub/superscripts and panel letter
const panelDecor = {
    id: 'panelDecor',
    afterDatasetsDraw(chart, args, opts) {
        const ctx = chart.ctx;
        const area = chart.chartArea;
        ctx.save();
        ctx.strokeStyle = '#000';
        ctx.lineWidth = 3.5;
        ctx.strokeRect(area.left, area.top, area.right - area.left, area.bottom - area.top);
        ctx.fillStyle = '#000';
        ctx.textBaseline = 'alphabetic';
        ctx.textAlign = 'left';
        ctx.font = `bold 50px ${FONT}`;
        ctx.fillText(opts.letter, opts.letterX, opts.letterY);
        drawRichText(ctx, opts.xTitle, opts.xTitleX, opts.xTitleY, 0);
        drawRichText(ctx, opts.yTitle, opts.yTitleX, opts.yTitleY, -Math.PI / 2);
        ctx.restore();
    }
};

// parts are [text, shift]; shift 1 = subscript, -1 = superscript
function drawRichText(ctx, parts, cx, cy, angle) {
    const fontFor = p => `bold ${p[1] ? 17 : 27.6}px ${FONT}`;
    let total = 0;
    parts.forEach(p => {
        ctx.font = fontFor(p);
        total += ctx.measureText(p[0]).width;
    });
    ctx.save();
    ctx.translate(cx, cy);
    ctx.rotate(angle);
    let x = -total / 2;
    parts.forEach(p => {
        ctx.font = fontFor(p);
        const dy = p[1] === 1 ? 6 : p[1] === -1 ? -10 : 0;
        ctx.fillText(p[0], x, dy);
        x += ctx.measureText(p[0]).width;
    });
    ctx.restore();
}

const makeAxis = (min, max, ticks, labels, tickPadding, fitSize, horizontal) => ({
    type: 'linear',
    min: min,
    max: max,
    border: { display: false },
    grid: { drawOnChartArea: false, drawTicks: true, tickLength: 14, tickWidth: 2.5, tickColor: '#000' },
    ticks: {
        autoSkip: false,
        maxRotation: 0,
        padding: tickPadding,
        color: '#111',
        font: { family: FONT, size: 18.5, weight: 'bold' },
        callback: (value, i) => labels[i]
    },
    afterBuildTicks: axis => { axis.ticks = ticks.map(v => ({ value: v })); },
    afterFit: axis => {
        if (horizontal) axis.height = fitSize;
        else axis.width = fitSize;
        // keep the plot box where it was asked for
        axis.paddingLeft = axis.paddingRight = axis.paddingTop = axis.paddingBottom = 0;
    }
});

const makePanel = (id, p) => {
    const canvas = document.getElementById(id);
    const dataset = (data, color, radius, order) => ({
        data: data,
        order: order,
        backgroundColor: color,
        borderWidth: 0,
        pointRadius: radius,
        pointHoverRadius: radius
    });
    new Chart(canvas, {
        type: 'scatter',
        data: {
            datasets: [
                dataset(p.light, LIGHT, 5.8, 4),
                dataset(p.dark, DARK, 5.8, 3),
                dataset(p.black, '#000', 5.8, 2),
                dataset(p.red, '#ff0000', 7.3, 1)
            ]
        },
        options: {
            responsive: false,
            animation: false,
            layout: { padding: { top: p.area.top, right: canvas.width - p.area.right, left: 0, bottom: 0 } },
            plugins: {
                legend: { display: false },
                tooltip: { enabled: false },
                panelDecor: p.decor
            },
            scales: {
                x: makeAxis(p.x[0], p.x[1], p.xTicks, p.xLabels, 11, canvas.height - p.area.bottom, true),
                y: makeAxis(p.y[0], p.y[1], p.yTicks, p.yLabels, 7, p.area.left, false)
            }
        },
        plugins: [panelDecor]
    });
};

const YIELD_TITLE = [['Butanol yield [g', 0], ['B', 1], ['/g', 0], ['S', 1], [']', 0]];
const PRODUCTIVITY_TITLE = [['Butanol productivity [g', 0], ['B', 1], ['/L/h]', 0]];
const TEMPERATURE_TITLE = [['Cold trap temperature [', 0], ['0', -1], ['C]', 0]];

makePanel('panelA', {
    light: aLight, dark: aDark, black: aBlack, red: aRed,
    x: [0, 25.38], y: [0.16, 0.2817],
    xTicks: aXTicks, xLabels: aXLabels, yTicks: aYTicks, yLabels: aYLabels,
    area: { left: 108, right: 579, top: 14, bottom: 485 },
    decor: {
        letter: 'a', letterX: 118, letterY: 469,
        xTitle: PRODUCTIVITY_TITLE, xTitleX: 340, xTitleY: 557,
        yTitle: YIELD_TITLE, yTitleX: 33, yTitleY: 253
    }
});
makePanel('panelB', {
    light: bLight, dark: bDark, black: bBlack, red: bRed,
    x: [-40, 5.47], y: [0.2, 1.005],
    xTicks: bXTicks, xLabels: bXLabels, yTicks: bYTicks, yLabels: bYLabels,
    area: { left: 91, right: 556, top: 18.5, bottom: 489 },
    decor: {
        letter: 'b', letterX: 101, letterY: 473,
        xTitle: TEMPERATURE_TITLE, xTitleX: 320, xTitleY: 560,
        yTitle: [['Sugar conversion [fraction]', 0]], yTitleX: 29, yTitleY: 255
    }
});
makePanel('panelC', {
    light: cLight, dark: cDark, black: cBlack, red: cRed,
    x: [0, 0.8123], y: [0, 710.6],
    xTicks: cXTicks, xLabels: cXLabels, yTicks: cYTicks, yLabels: cYLabels,
    area: { left: 106.5, right: 574, top: 18, bottom: 486 },
    decor: {
        letter: 'c', letterX: 116, letterY: 457,
        xTitle: [['Dilution rate [h', 0], ['-1', -1], [']', 0]], xTitleX: 336, xTitleY: 555,
        yTitle: [['CO', 0], ['2', 1], [' flow rate [m', 0], ['3', -1], ['/s]', 0]], yTitleX: 37, yTitleY: 255
    }
});
makePanel('panelD', {
    light: dLight, dark: dDark, black: dBlack, red: dRed,
    x: [-40, 5.73], y: [0, 25.37],
    xTicks: dXTicks, xLabels: dXLabels, yTicks: dYTicks, yLabels: dYLabels,
    area: { left: 85, right: 553, top: 18, bottom: 486 },
    decor: {
        letter: 'd', letterX: 95, letterY: 469,
        xTitle: TEMPERATURE_TITLE, xTitleX: 314, xTitleY: 555,
        yTitle: PRODUCTIVITY_TITLE, yTitleX: 26, yTitleY: 256
    }
});
</script>
</body>
</html>
